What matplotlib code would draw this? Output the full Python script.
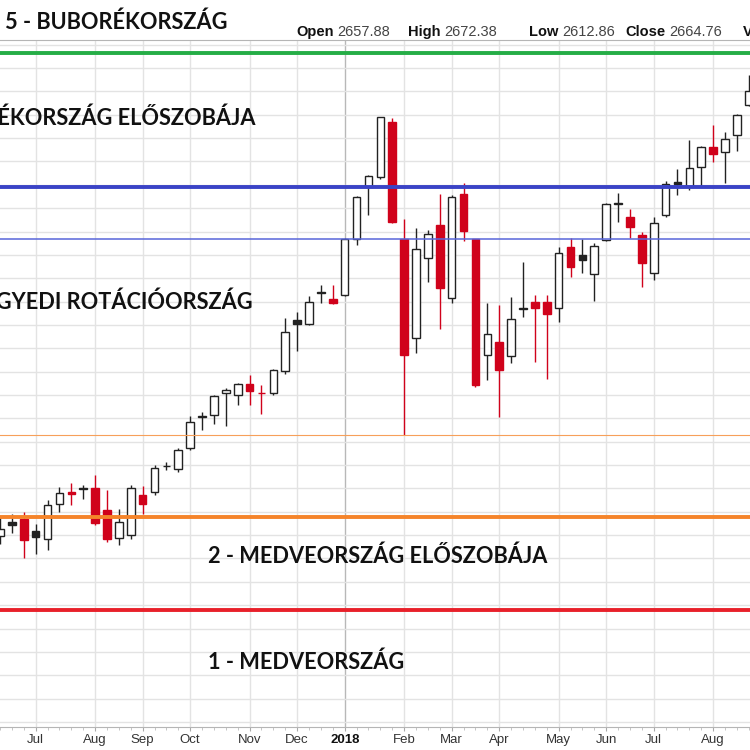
import numpy as np
import pandas as pd
import matplotlib
matplotlib.use('Agg')
import matplotlib.pyplot as plt

#---------------------------
# weekly candles (week starting on Monday)
first_week = '2017-06-12'

opens = [2424, 2439, 2442, 2429, 2421, 2458, 2471, 2475,
         2475, 2452, 2422, 2425, 2468, 2471, 2498.5, 2496,
         2518, 2551, 2553.6, 2577, 2575, 2586.4, 2577.5, 2577.4, 2600.7,
         2655.2, 2651, 2685, 2677.4,
         2682, 2741.6, 2798, 2808.6, 2866.9,
         2741.6, 2635.6, 2721.3, 2756.9,
         2678.5, 2789.8, 2741.6, 2617.8,
         2632, 2616.7, 2667.5, 2674.8, 2674.8,
         2667.8, 2733.7, 2724.8, 2704.2,
         2740.9, 2780.5, 2765.8, 2746.2,
         2705.2, 2767.6, 2803.5, 2798.7, 2819.3,
         2840.1, 2835.4, 2853.3, 2885.4]

highs = [2446, 2448, 2450, 2437, 2463, 2477, 2481, 2478.5,
         2489, 2473, 2453, 2479, 2478, 2500, 2503, 2518,
         2552, 2557, 2575, 2582, 2588, 2596.4, 2585.7, 2603, 2657,
         2663.5, 2681, 2692.7, 2692.7,
         2743, 2787.5, 2810, 2872.9, 2871,
         2763, 2753.4, 2752, 2790,
         2789, 2802.2, 2741.6, 2673.1,
         2671.3, 2679.5, 2717.7, 2682, 2682,
         2733.7, 2742.7, 2741.6, 2738,
         2781, 2790.9, 2773.7, 2750,
         2765.2, 2804.4, 2816.6, 2847.9, 2842,
         2864, 2856.8, 2876, 2917.5]

lows = [2416, 2427, 2401, 2405, 2409, 2450, 2457, 2463.5,
        2436, 2418, 2414, 2421, 2448, 2468, 2495, 2493,
        2516, 2538, 2544, 2542, 2564, 2564.3, 2554.6, 2575, 2597,
        2622.4, 2650, 2673.8, 2672,
        2681, 2735.5, 2767.6, 2806, 2759,
        2532.7, 2620.2, 2696.3, 2645.3,
        2673.8, 2740.1, 2584, 2591,
        2551.7, 2609.5, 2658.8, 2610.6, 2591.8,
        2653.4, 2701, 2705.9, 2675.9,
        2740, 2760.5, 2742.7, 2690.3,
        2698.1, 2765, 2789, 2794.4, 2798.7,
        2824.7, 2801.6, 2836, 2884]

closes = [2431.5, 2436, 2420, 2423, 2457, 2470, 2469, 2474,
          2438, 2421, 2439.5, 2475, 2458, 2497, 2499.5, 2516,
          2546.5, 2552, 2574, 2580, 2586.4, 2579.6, 2576.8, 2601.7, 2642,
          2651, 2674.8, 2684, 2673.1,
          2741.6, 2787.2, 2809.7, 2872.9, 2760.5,
          2617.8, 2730.9, 2747.3, 2689.2,
          2787.2, 2750.8, 2585.7, 2640.3,
          2601.7, 2656, 2668.4, 2667.8, 2661.7,
          2727.3, 2711.7, 2719.5, 2734.5,
          2779.1, 2779.4, 2755.1, 2716.6,
          2759.4, 2800.5, 2800.8, 2817.6, 2840.1,
          2833, 2849.2, 2874.7, 2900.7]

# zone boundaries (price levels)
zone_levels = [2941, 2797.5, 2742, 2532.7, 2444.5, 2345]

zone_names = ['5 - BUBORÉKORSZÁG',
              '4 - BUBORÉKORSZÁG ELŐSZOBÁJA',
              '3 - EGYEDI ROTÁCIÓORSZÁG',
              '2 - MEDVEORSZÁG ELŐSZOBÁJA',
              '1 - MEDVEORSZÁG']

header_names = ['Open', 'High', 'Low', 'Close', 'V']
header_values = ['2657.88', '2672.38', '2612.86', '2664.76', '']

month_labels = ['Jul', 'Aug', 'Sep', 'Oct', 'Nov', 'Dec', '2018',
                'Feb', 'Mar', 'Apr', 'May', 'Jun', 'Jul', 'Aug', 'Sep']
#---------------------------

plt.rcParams['font.family'] = ['Liberation Sans', 'DejaVu Sans']

W = 750.0
fig = plt.figure(figsize=(7.5, 7.5), dpi=100)
ax = fig.add_axes([0, 23 / W, 1, 687 / W])

o = np.array(opens)
h = np.array(highs)
l = np.array(lows)
c = np.array(closes)

# x axis counts weeks from the week of 2017-07-03
weeks = pd.date_range(first_week, periods=len(c), freq='7D')
origin = pd.Timestamp('2017-07-03')
x = (weeks - origin).days / 7.0

prev = np.r_[c[0], c[:-1]]
red = c < prev
filled = c < o

BLACK = '#222222'
RED = '#d0021b'
col = np.where(red, RED, BLACK)
face = np.where(filled, col, 'white')

# wicks then bodies
ax.vlines(x, l, h, colors=col, lw=1.0, zorder=2)
ax.bar(x, np.maximum(np.abs(c - o), 0.8), bottom=np.minimum(o, c), width=0.64,
       color=face, edgecolor=col, linewidth=1.0, zorder=3)

# zone lines
line_colors = ['#25ad46', '#3a43c6', '#5866da', '#f7a05a', '#f5842a', '#e8202a']
line_widths = [2.8, 2.8, 1.1, 0.8, 2.8, 2.8]
for lev, lc, lw in zip(zone_levels, line_colors, line_widths):
    ax.axhline(lev, color=lc, lw=lw, zorder=5)

# axes limits: 0 px -> -33/11.93
ax.set_xlim(-33 / 11.93, (W - 33) / 11.93)
ax.set_ylim(2219.6, 2955.0)

# month ticks at the first weekly bar of each month
month_starts = pd.date_range('2017-07-01', periods=len(month_labels), freq='MS')
mondays = [pd.offsets.Week(weekday=0).rollforward(d) for d in month_starts]
month_pos = np.array([(m - origin).days / 7.0 for m in mondays])

inside = month_pos <= ax.get_xlim()[1]
ax.set_xticks(month_pos[inside])
ax.set_xticklabels([m for m, k in zip(month_labels, inside) if k])
ax.set_xticks(x, minor=True)
ax.set_yticks(np.arange(2225, 2951, 25))

ax.tick_params(axis='y', left=False, labelleft=False)
ax.tick_params(axis='x', which='major', length=3, color='#aaaaaa', pad=2,
               labelsize=9.5, labelcolor='#333333')
ax.tick_params(axis='x', which='minor', length=2, color='#bbbbbb')

ax.grid(True, color='#e3e3e3', lw=1.0)
ax.set_axisbelow(True)
ax.get_xgridlines()[6].set_color('#b8b8b8')
lab2018 = ax.get_xticklabels()[6]
lab2018.set_fontweight('bold')
lab2018.set_color('#111111')

for s in ['left', 'right']:
    ax.spines[s].set_visible(False)
for s in ['top', 'bottom']:
    ax.spines[s].set_color('#b5b5b5')

# month label just past the right edge (only its first letter shows)
for pos, lab in zip(month_pos[~inside], np.array(month_labels)[~inside]):
    ax.annotate(lab, xy=(pos, 0), xycoords=('data', 'axes fraction'),
                xytext=(0, -5), textcoords='offset points', ha='center', va='top',
                fontsize=9.5, color='#333333', annotation_clip=False)

# zone texts
zfont = dict(family=['Lato', 'DejaVu Sans'], fontweight='bold', fontsize=15.7,
             color='#111111', va='center')
fig.text(5 / W, 1 - 22 / W, zone_names[0], ha='left', **zfont)
fig.text(255 / W, 1 - 118 / W, zone_names[1], ha='right', **zfont)
fig.text(253 / W, 1 - 302 / W, zone_names[2], ha='right', **zfont)
fig.text(208 / W, 1 - 556 / W, zone_names[3], ha='left', **zfont)
fig.text(208 / W, 1 - 662 / W, zone_names[4], ha='left', **zfont)

# OHLC header line: bold name, then the value right after it
rend = fig.canvas.get_renderer()
group_x = [296, 408, 529, 625, 743]
for nm, vl, gx in zip(header_names, header_values, group_x):
    t = fig.text(gx / W, 1 - 32 / W, nm, ha='left', va='center', fontsize=10.5,
                 fontweight='bold', color='#111111')
    if vl:
        x1 = t.get_window_extent(renderer=rend).x1
        fig.text((x1 + 4) / W, 1 - 32 / W, vl, ha='left', va='center',
                 fontsize=10.5, color='#444444')

fig.savefig('out.png', dpi=100)
